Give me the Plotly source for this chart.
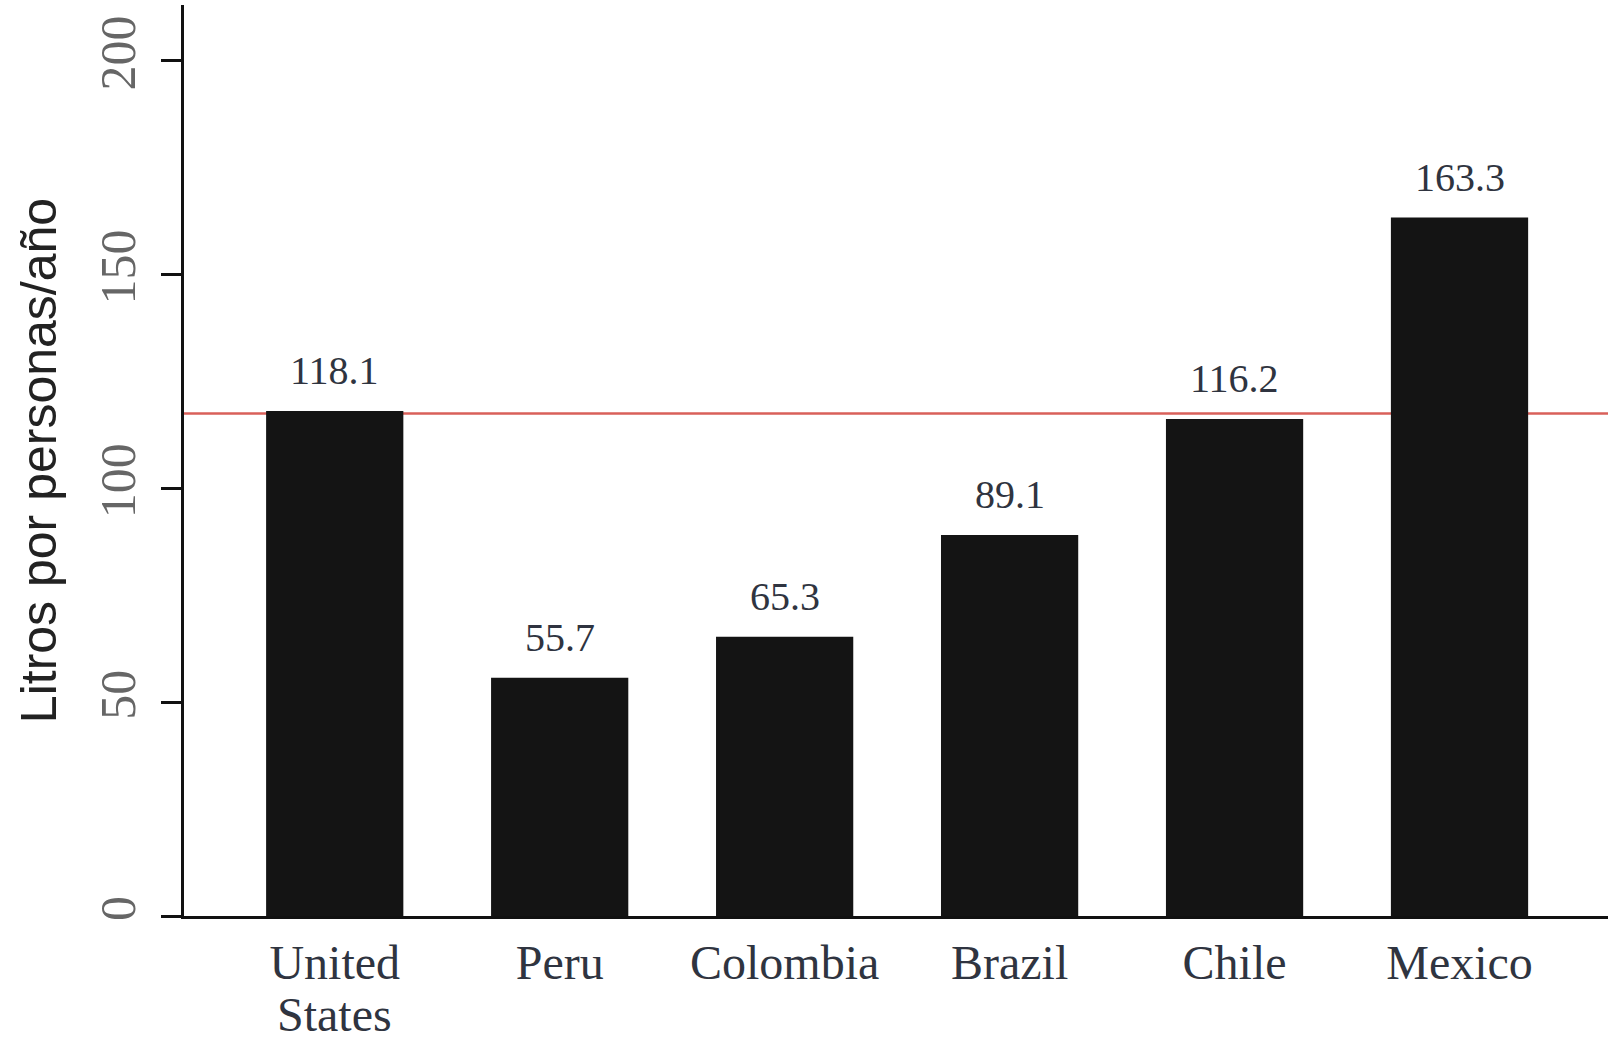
import plotly.graph_objects as go

countries = ["United", "Peru", "Colombia", "Brazil", "Chile", "Mexico"]
country_second_line = ["States", "", "", "", "", ""]
litres = [118.1, 55.7, 65.3, 89.1, 116.2, 163.3]
value_labels = ["118.1", "55.7", "65.3", "89.1", "116.2", "163.3"]
reference_level = 117.5
y_ticks = [0, 50, 100, 150, 200]

SERIF = "Liberation Serif, Times New Roman, serif"
LABEL_COLOR = "#2f3440"
x_idx = list(range(len(countries)))

fig = go.Figure()
fig.add_trace(go.Bar(
    x=x_idx, y=litres,
    marker=dict(color="#141414", line=dict(width=0)),
    width=0.61,
    hoverinfo="skip",
    showlegend=False,
))

fig.add_shape(type="line", xref="paper", x0=0, x1=1, yref="y",
              y0=reference_level, y1=reference_level,
              line=dict(color="#d9605a", width=2.5), layer="below")

for xi, v, lab in zip(x_idx, litres, value_labels):
    fig.add_annotation(x=xi, y=v, text=lab, showarrow=False,
                       yanchor="bottom", yshift=16,
                       font=dict(family=SERIF, size=40, color=LABEL_COLOR))

for xi, line2 in zip(x_idx, country_second_line):
    if line2:
        fig.add_annotation(x=xi, xref="x", y=0, yref="paper", text=line2,
                           showarrow=False, yanchor="bottom", yshift=-127,
                           font=dict(family=SERIF, size=48, color=LABEL_COLOR))

fig.update_layout(
    width=1616, height=1045, autosize=False,
    margin=dict(l=184, r=8, t=5, b=129, autoexpand=False),
    paper_bgcolor="white", plot_bgcolor="white",
    bargap=0.39,
    xaxis=dict(
        range=[-0.67, 5.66],
        automargin=False,
        tickmode="array", tickvals=x_idx, ticktext=countries,
        ticks="", showgrid=False, zeroline=False,
        showline=True, linecolor="#111", linewidth=3,
        tickfont=dict(family=SERIF, size=48, color=LABEL_COLOR),
        ticklabelstandoff=2,
    ),
    yaxis=dict(
        range=[0, 213],
        automargin=False,
        tickmode="array", tickvals=y_ticks,
        ticktext=[str(t) for t in y_ticks],
        ticks="outside", ticklen=20, tickwidth=3, tickcolor="#111",
        tickangle=-90,
        showgrid=False, zeroline=False,
        showline=True, linecolor="#111", linewidth=3,
        tickfont=dict(family=SERIF, size=50, color="#666"),
        ticklabelstandoff=6,
        title=dict(text="Litros por personas/año",
                   font=dict(family="Liberation Sans, Arial, sans-serif", size=50, color="#222"),
                   standoff=18),
    ),
)

fig.write_html("out.html", config={"displayModeBar": False},
               post_script="document.body.style.margin='0';document.body.style.overflow='hidden';")
